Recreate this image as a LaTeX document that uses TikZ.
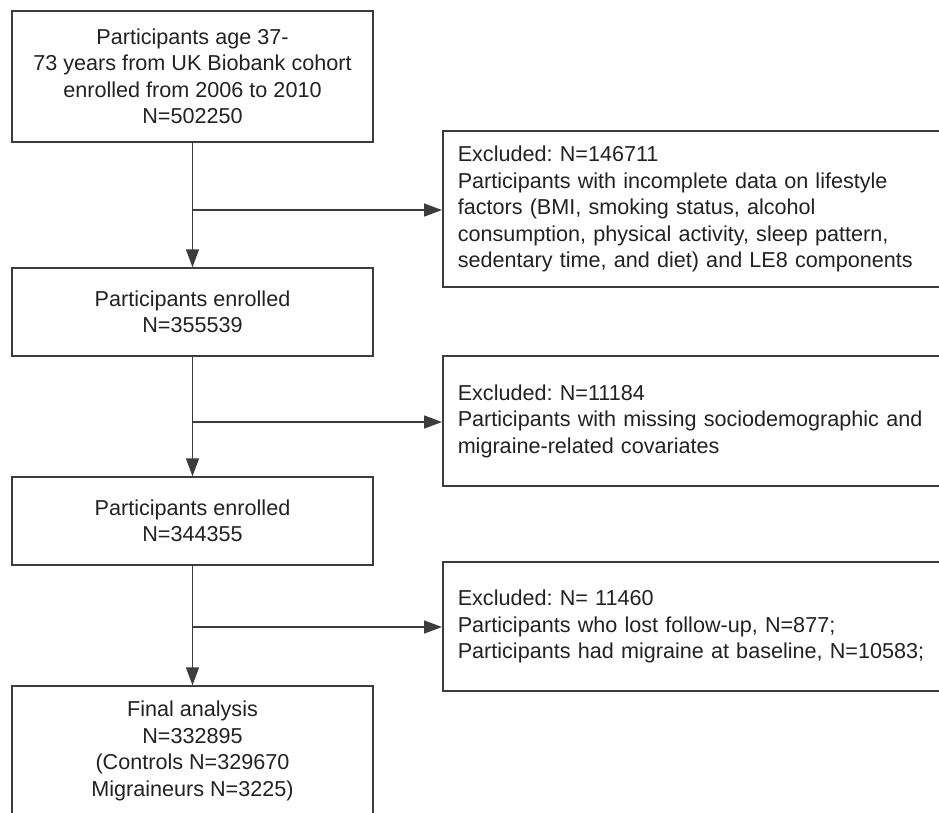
\documentclass[tikz,border=0pt]{standalone}
\usepackage{fontspec}
\setmainfont{Liberation Sans}
\usetikzlibrary{arrows.meta}
\definecolor{linec}{HTML}{3C3C3C}
\definecolor{textc}{HTML}{222222}
\tikzset{
  lbox/.style={draw=linec, line width=1.5pt, rectangle, minimum width=361pt, inner sep=0pt,
    align=center, text=textc, font=\fontsize{21.6}{26.5}\selectfont},
  rbox/.style={draw=linec, line width=1.5pt, rectangle, minimum width=520pt, inner xsep=15pt, inner ysep=0pt,
    text width=490pt, align=left, text=textc, font=\fontsize{21.6}{26.5}\selectfont},
  arr/.style={draw=linec, line width=1.5pt, -{Triangle[length=18pt,width=13pt]}},
}
\begin{document}
\frenchspacing
\begin{tikzpicture}[x=1pt,y=-1pt]
\useasboundingbox (0,0) rectangle (939,812);
\clip (0,0) rectangle (939,812);
\fill[white] (0,0) rectangle (939,812);
\node[lbox, minimum height=131pt] (n1) at (192.5,76.5) {Participants age 37-\\73 years from UK Biobank cohort\\enrolled from 2006 to 2010\\N=502250};
\node[lbox, minimum height=88pt] (n2) at (192.5,312) {Participants enrolled\\N=355539};
\node[lbox, minimum height=88pt] (n3) at (192.5,521) {Participants enrolled\\N=344355};
\node[lbox, minimum height=130pt] (n4) at (192.5,751) {Final analysis\\N=332895\\(Controls N=329670\\Migraineurs N=3225)};
\node[rbox, minimum height=156pt, anchor=west] (e1) at (442,209) {Excluded: N=146711\\Participants with incomplete data on lifestyle\\factors (BMI, smoking status, alcohol\\consumption, physical activity, sleep pattern,\\sedentary time, and diet) and LE8 components};
\node[rbox, minimum height=130pt, anchor=west] (e2) at (442,421) {Excluded: N=11184\\Participants with missing sociodemographic and\\migraine-related covariates};
\node[rbox, minimum height=129pt, anchor=west] (e3) at (442,626.5) {Excluded: N= 11460\\Participants who lost follow-up, N=877;\\Participants had migraine at baseline, N=10583;};
\coordinate (b1) at (192.5,210);
\coordinate (b2) at (192.5,422);
\coordinate (b3) at (192.5,627);
\draw[arr] (n1) -- (n2);
\draw[arr] (n2) -- (n3);
\draw[arr] (n3) -- (n4);
\draw[arr] (b1) -- (b1 -| e1.west);
\draw[arr] (b2) -- (b2 -| e2.west);
\draw[arr] (b3) -- (b3 -| e3.west);
\end{tikzpicture}
\end{document}
